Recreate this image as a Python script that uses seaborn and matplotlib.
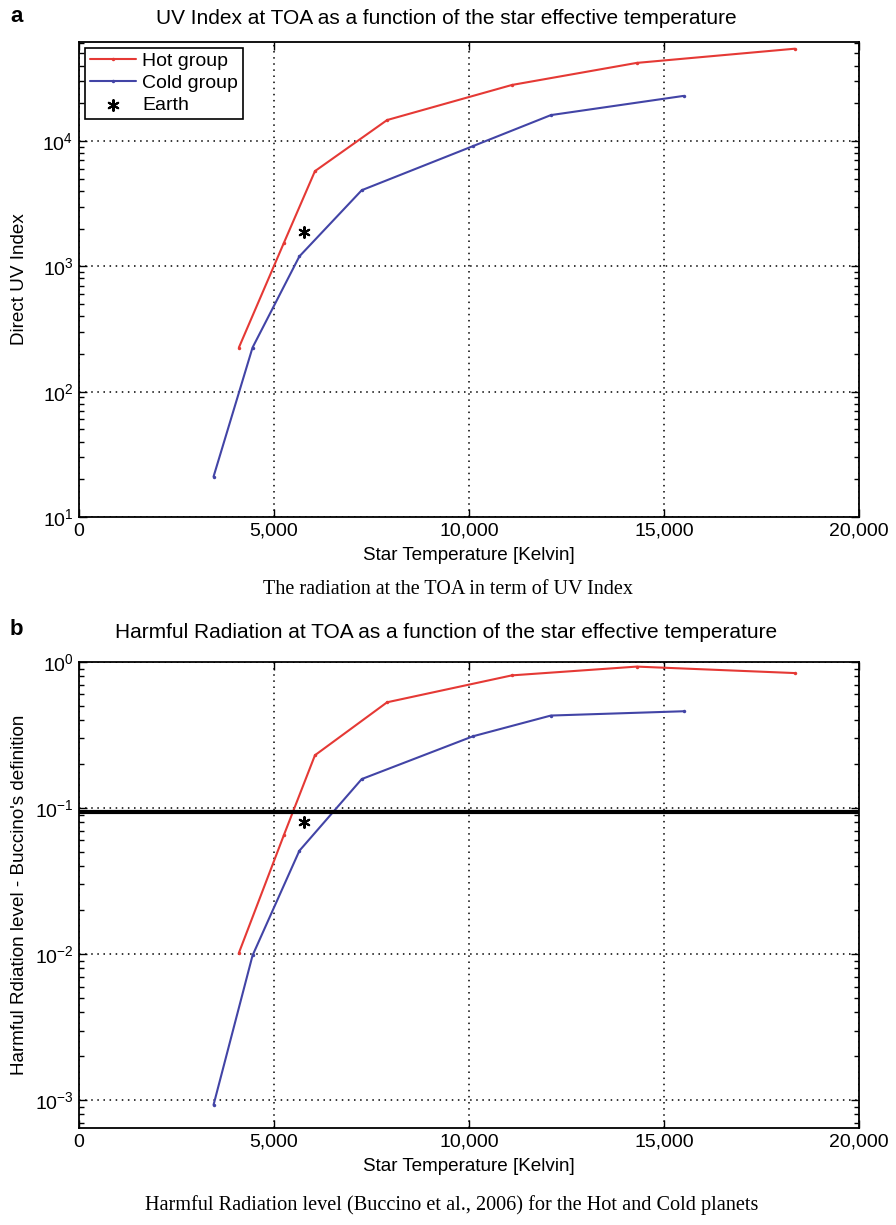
import numpy as np
import pandas as pd
import seaborn as sns
import matplotlib
matplotlib.use("Agg")
import matplotlib.pyplot as plt
from matplotlib.ticker import FixedLocator, FuncFormatter, LogLocator, NullFormatter

# ---------------- data ----------------
temp_hot = [4100, 5250, 6050, 7900, 11100, 14300, 18350]
temp_cold = [3450, 4450, 5650, 7250, 10100, 12100, 15500]
uv_hot = [225, 1530, 5750, 14700, 28000, 42000, 54500]
uv_cold = [21, 225, 1200, 4050, 9100, 16100, 22900]
harm_hot = [0.0102, 0.065, 0.23, 0.53, 0.81, 0.93, 0.84]
harm_cold = [0.00093, 0.0098, 0.051, 0.158, 0.31, 0.43, 0.46]
earth_temp = [5780]
earth_uv = [1870]
earth_harm = [0.080]
harm_threshold = 0.094

x_ticks = [0, 5000, 10000, 15000, 20000]
series_labels = ["Hot group", "Cold group", "Earth"]

title_a = "UV Index at TOA as a function of the star effective temperature"
title_b = "Harmful Radiation at TOA as a function of the star effective temperature"
ylabel_a = "Direct UV Index"
ylabel_b = "Harmful Rdiation level - Buccino's definition"
xlabel = "Star Temperature [Kelvin]"
caption_a = "The radiation at the TOA in term of UV Index"
caption_b = "Harmful Radiation level (Buccino et al., 2006) for the Hot and Cold planets"

RED = "#e53935"
BLUE = "#4244a6"

# ---------------- style ----------------
sns.set_style("ticks")
plt.rcParams.update({
    "xtick.direction": "in",
    "ytick.direction": "in",
    "xtick.top": True,
    "ytick.right": True,
    "xtick.major.size": 6,
    "ytick.major.size": 6,
    "ytick.minor.size": 3.5,
    "xtick.major.width": 1.0,
    "ytick.major.width": 1.0,
    "ytick.minor.width": 1.0,
    "axes.linewidth": 1.3,
    "axes.edgecolor": "black",
    "xtick.color": "black",
    "ytick.color": "black",
    "xtick.labelsize": 14,
    "ytick.labelsize": 14,
    "text.color": "black",
    "axes.labelcolor": "black",
})
plt.rcParams["font.family"] = ["Liberation Sans", "DejaVu Sans"]

W, H = 896, 1225
fig = plt.figure(figsize=(W / 100, H / 100), dpi=100)

def frac_axes(left, top, right, bottom):
    return fig.add_axes([left / W, 1 - bottom / H, (right - left) / W, (bottom - top) / H])

ax1 = frac_axes(79, 42, 859, 517)
ax2 = frac_axes(79, 662, 859, 1128)

def style_axes(ax, ylo, yhi):
    ax.set_yscale("log")
    ax.set_xlim(0, 20000)
    ax.set_ylim(ylo, yhi)
    ax.xaxis.set_major_locator(FixedLocator(x_ticks))
    ax.xaxis.set_major_formatter(FuncFormatter(lambda v, p: f"{int(v):,}"))
    ax.yaxis.set_major_locator(LogLocator(base=10, numticks=12))
    ax.yaxis.set_minor_locator(LogLocator(base=10, subs=np.arange(2, 10), numticks=12))
    ax.yaxis.set_minor_formatter(NullFormatter())
    ax.grid(True, which="major", axis="both", color="black",
            linestyle=(0, (1, 3)), linewidth=1.1)
    ax.tick_params(axis="x", which="both", pad=4)
    ax.tick_params(axis="y", which="both", pad=4)
    for s in ax.spines.values():
        s.set_visible(True)
        s.set_color("black")

# ---------------- panel a ----------------
sns.lineplot(x=temp_hot, y=uv_hot, ax=ax1, color=RED, linewidth=1.5, marker="o",
             markersize=2.5, markeredgewidth=0, sort=False, label=series_labels[0])
sns.lineplot(x=temp_cold, y=uv_cold, ax=ax1, color=BLUE, linewidth=1.5, marker="o",
             markersize=2.5, markeredgewidth=0, sort=False, label=series_labels[1])
sns.scatterplot(x=earth_temp, y=earth_uv, ax=ax1, marker=(6, 2, 0), s=60,
                color="black", linewidth=1.5, label=series_labels[2], zorder=5)
style_axes(ax1, 10, 10 ** 4.79)
leg = ax1.legend(loc="upper left", frameon=True, fancybox=False, edgecolor="black",
                 framealpha=1, fontsize=14, handlelength=2.4, handletextpad=0.3,
                 labelspacing=0.22, borderaxespad=0.3, borderpad=0.25)
leg.get_frame().set_linewidth(1.2)
ax1.set_xlabel(xlabel, fontsize=13.6)
ax1.set_ylabel(ylabel_a, fontsize=13.6)
ax1.xaxis.set_label_coords(0.5, -0.063)
ax1.yaxis.set_label_coords(-0.066, 0.5)

# ---------------- panel b ----------------
sns.lineplot(x=temp_hot, y=harm_hot, ax=ax2, color=RED, linewidth=1.5, marker="o",
             markersize=2.5, markeredgewidth=0, sort=False)
sns.lineplot(x=temp_cold, y=harm_cold, ax=ax2, color=BLUE, linewidth=1.5, marker="o",
             markersize=2.5, markeredgewidth=0, sort=False)
sns.scatterplot(x=earth_temp, y=earth_harm, ax=ax2, marker=(6, 2, 0), s=60,
                color="black", linewidth=1.5, zorder=5)
ax2.axhline(harm_threshold, color="black", linewidth=3, zorder=4)
style_axes(ax2, 10 ** -3.19, 1.0)
if ax2.get_legend() is not None:
    ax2.get_legend().remove()
ax2.set_xlabel(xlabel, fontsize=13.6)
ax2.set_ylabel(ylabel_b, fontsize=13.6)
ax2.xaxis.set_label_coords(0.5, -0.064)
ax2.yaxis.set_label_coords(-0.066, 0.5)

# ---------------- titles, letters, captions ----------------
fig.text(446 / W, 1 - 18 / H, title_a, ha="center", va="center", fontsize=15)
fig.text(446 / W, 1 - 633 / H, title_b, ha="center", va="center", fontsize=15)
fig.text(10 / W, 1 - 16 / H, "a", ha="left", va="center", fontsize=16, fontweight="bold")
fig.text(10 / W, 1 - 630 / H, "b", ha="left", va="center", fontsize=16, fontweight="bold")
fig.text(448 / W, 1 - 590 / H, caption_a, ha="center", va="center", fontsize=14.5,
         family=["Liberation Serif", "DejaVu Serif"])
fig.text(452 / W, 1 - 1205 / H, caption_b, ha="center", va="center", fontsize=14.6,
         family=["Liberation Serif", "DejaVu Serif"])

fig.savefig("out.png", dpi=100, facecolor="white")
